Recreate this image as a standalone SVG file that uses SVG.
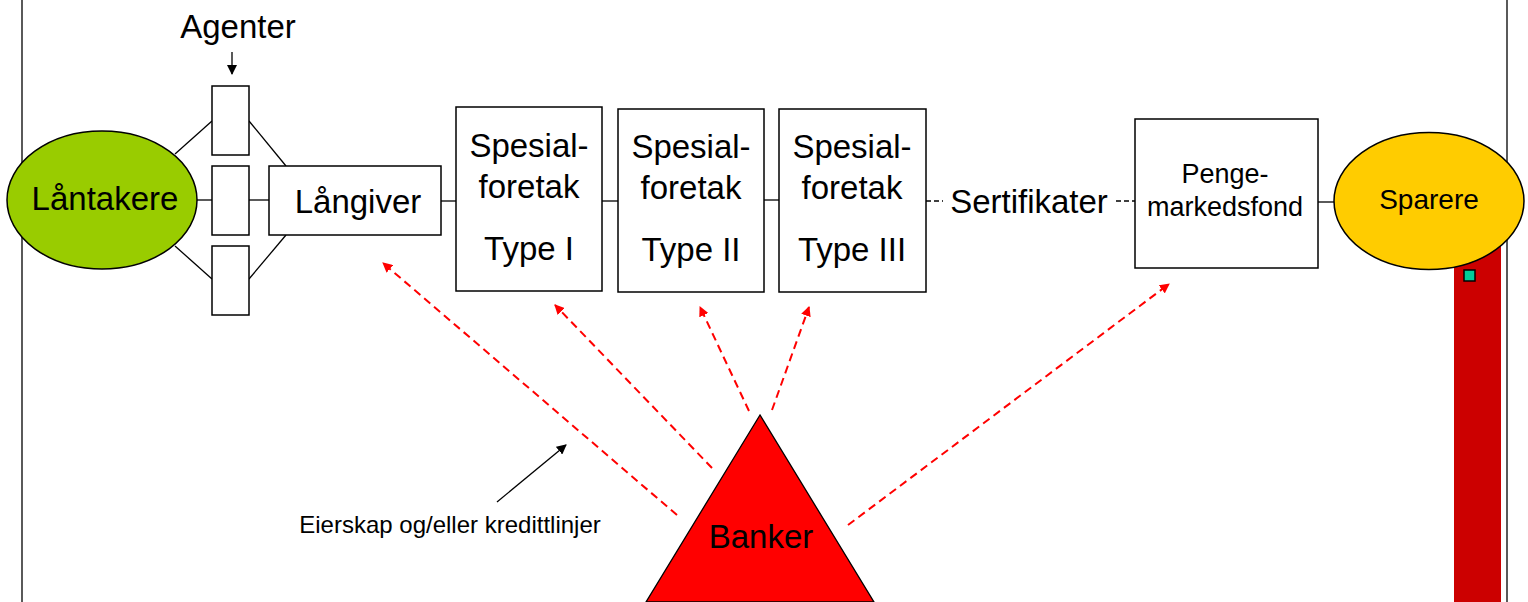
<svg xmlns="http://www.w3.org/2000/svg" width="1528" height="602" viewBox="0 0 1528 602">
<style>
.t{font-family:"Liberation Sans",Arial,sans-serif;fill:#000;text-anchor:middle}
.box{fill:#fff;stroke:#000;stroke-width:1.5}
.ln{stroke:#000;stroke-width:1.3;fill:none}
.rd{stroke:#FF0000;stroke-width:2;stroke-dasharray:8 5;fill:none;marker-end:url(#ra)}
</style>
<defs>
<marker id="ra" markerWidth="10" markerHeight="10" refX="9" refY="5" orient="auto" markerUnits="userSpaceOnUse" viewBox="0 0 10 10">
<path d="M0,0 L10,5 L0,10 z" fill="#FF0000"/>
</marker>
<marker id="ba" markerWidth="10" markerHeight="10" refX="9" refY="5" orient="auto" markerUnits="userSpaceOnUse" viewBox="0 0 10 10">
<path d="M0,0 L10,5 L0,10 z" fill="#000"/>
</marker>
</defs>
<rect width="1528" height="602" fill="#fff"/>
<line x1="22" y1="0" x2="22" y2="602" class="ln"/>
<line x1="1507" y1="0" x2="1507" y2="602" class="ln"/>
<rect x="1454" y="230" width="47" height="372" fill="#CC0000"/>
<g id="connectors">
<line x1="175" y1="154" x2="212" y2="121" class="ln"/>
<line x1="249" y1="121" x2="286" y2="166" class="ln"/>
<line x1="175" y1="246" x2="212" y2="279" class="ln"/>
<line x1="249" y1="279" x2="286" y2="235" class="ln"/>
<line x1="197" y1="200" x2="212" y2="200" class="ln"/>
<line x1="249" y1="200" x2="269" y2="200" class="ln"/>
<line x1="441" y1="201" x2="456" y2="201" class="ln"/>
<line x1="602" y1="201" x2="618" y2="201" class="ln"/>
<line x1="764" y1="200" x2="779" y2="200" class="ln"/>
<line x1="926" y1="201" x2="943" y2="201" class="ln" stroke-dasharray="5 3"/>
<line x1="1116" y1="201" x2="1135" y2="201" class="ln" stroke-dasharray="5 3"/>
<line x1="1318" y1="202" x2="1335" y2="202" class="ln"/>
<line x1="232" y1="52" x2="232" y2="74" class="ln" marker-end="url(#ba)"/>
<line x1="497" y1="502" x2="566" y2="445" class="ln" marker-end="url(#ba)"/>
<line x1="677" y1="515" x2="383" y2="263" class="rd"/>
<line x1="712" y1="468" x2="555" y2="305" class="rd"/>
<line x1="749" y1="411" x2="700" y2="307" class="rd"/>
<line x1="772" y1="410" x2="809" y2="307" class="rd"/>
<line x1="848" y1="525" x2="1169" y2="284" class="rd"/>
</g>
<g id="laantakere">
<ellipse cx="102" cy="200" rx="95" ry="69" fill="#99CC00" stroke="#000" stroke-width="1.5"/>
<text x="105" y="210" class="t" font-size="33">Låntakere</text>
</g>
<g id="agenter">
<text x="238" y="38" class="t" font-size="33">Agenter</text>
<rect x="212" y="86" width="37" height="69" class="box"/>
<rect x="212" y="166" width="37" height="69" class="box"/>
<rect x="212" y="246" width="37" height="69" class="box"/>
</g>
<g id="langiver">
<rect x="269" y="166" width="172" height="69" class="box"/>
<text x="358" y="213" class="t" font-size="33">Långiver</text>
</g>
<g id="spesial1">
<rect x="456" y="107" width="146" height="184" class="box"/>
<text x="529" y="157" class="t" font-size="33">Spesial-</text>
<text x="529" y="198" class="t" font-size="33">foretak</text>
<text x="529" y="260" class="t" font-size="33">Type I</text>
</g>
<g id="spesial2">
<rect x="618" y="109" width="146" height="183" class="box"/>
<text x="691" y="158" class="t" font-size="33">Spesial-</text>
<text x="691" y="199" class="t" font-size="33">foretak</text>
<text x="691" y="261" class="t" font-size="33">Type II</text>
</g>
<g id="spesial3">
<rect x="779" y="109" width="147" height="183" class="box"/>
<text x="852" y="158" class="t" font-size="33">Spesial-</text>
<text x="852" y="199" class="t" font-size="33">foretak</text>
<text x="852" y="261" class="t" font-size="33">Type III</text>
</g>
<g id="sertifikater">
<text x="1029" y="213" class="t" font-size="33">Sertifikater</text>
</g>
<g id="pengemarkedsfond">
<rect x="1135" y="119" width="183" height="149" class="box"/>
<text x="1225" y="183" class="t" font-size="27">Penge-</text>
<text x="1225" y="216" class="t" font-size="27">markedsfond</text>
</g>
<g id="sparere">
<ellipse cx="1429" cy="201" rx="95" ry="68.5" fill="#FFCC00" stroke="#000" stroke-width="1.5"/>
<text x="1429" y="209" class="t" font-size="28">Sparere</text>
<rect x="1464" y="270" width="11" height="11" fill="#00CC99" stroke="#000" stroke-width="1.5"/>
</g>
<g id="banker">
<polygon points="760,415 646,602 874,602" fill="#FF0000" stroke="#000" stroke-width="1.3"/>
<text x="761" y="548" class="t" font-size="33">Banker</text>
</g>
<g id="label">
<text x="450" y="533" class="t" font-size="24">Eierskap og/eller kredittlinjer</text>
</g>
</svg>
